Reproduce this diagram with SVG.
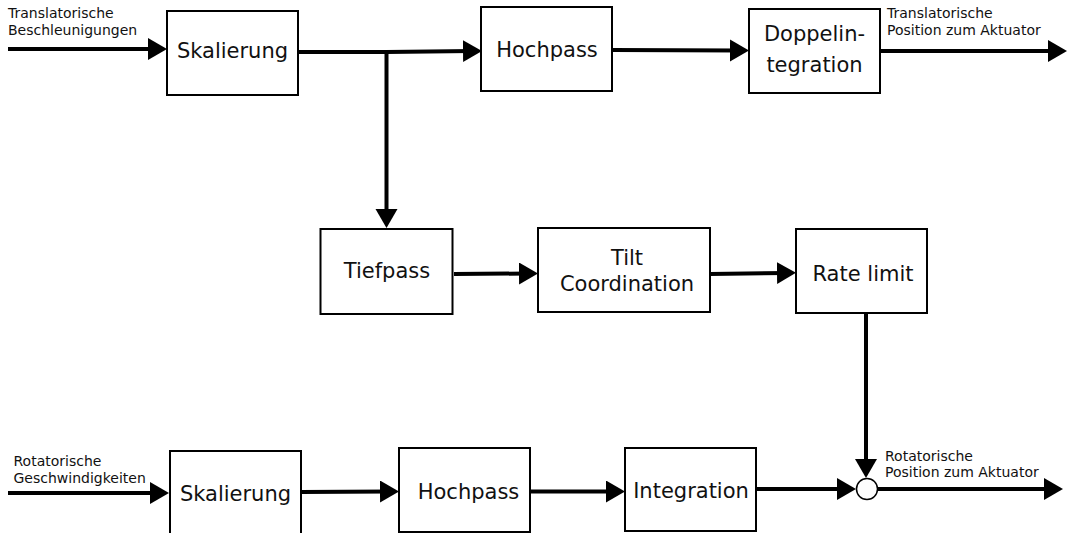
<svg xmlns="http://www.w3.org/2000/svg" width="1067" height="533" viewBox="0 0 1067 533">
  <style>
    .box { fill: #ffffff; stroke: #000000; stroke-width: 2; }
    .lbl { font-family: "DejaVu Sans", "Liberation Sans", sans-serif; font-size: 21px; fill: #111111; text-anchor: middle; }
    .sig { font-family: "DejaVu Sans", "Liberation Sans", sans-serif; font-size: 14px; fill: #111111; }
    .wire { fill: none; stroke: #000000; stroke-width: 4; marker-end: url(#head); }
    .plain { fill: none; stroke: #000000; stroke-width: 4; }
  </style>
  <defs>
    <marker id="head" markerUnits="userSpaceOnUse" markerWidth="20" markerHeight="24" refX="9" refY="11" orient="auto">
      <path d="M0,0 L19,11 L0,22 Z" fill="#000000"/>
    </marker>
  </defs>
  <rect width="1067" height="533" fill="#ffffff"/>

  <!-- signal labels -->
  <g id="labels">
    <text class="sig" x="8" y="18">Translatorische</text>
    <text class="sig" x="8" y="35">Beschleunigungen</text>
    <text class="sig" x="887" y="18">Translatorische</text>
    <text class="sig" x="887" y="35">Position zum Aktuator</text>
    <text class="sig" x="13.5" y="466">Rotatorische</text>
    <text class="sig" x="13.5" y="483">Geschwindigkeiten</text>
    <text class="sig" x="885" y="461">Rotatorische</text>
    <text class="sig" x="885" y="477">Position zum Aktuator</text>
  </g>

  <!-- connectors -->
  <g id="connectors">
    <line class="wire" x1="8" y1="49" x2="157" y2="49"/>
    <line class="plain" x1="298" y1="52" x2="388.5" y2="52"/>
    <line class="wire" x1="386.5" y1="52" x2="472" y2="51"/>
    <line class="wire" x1="386.5" y1="50" x2="386.5" y2="218"/>
    <line class="wire" x1="613" y1="50" x2="739" y2="50.5"/>
    <line class="wire" x1="880" y1="51" x2="1057" y2="51"/>
    <line class="wire" x1="454" y1="274" x2="528" y2="273.5"/>
    <line class="wire" x1="710" y1="274" x2="786" y2="273"/>
    <line class="wire" x1="866" y1="313" x2="866" y2="468"/>
    <line class="wire" x1="8" y1="493" x2="159" y2="493"/>
    <line class="wire" x1="301" y1="492" x2="389" y2="491.5"/>
    <line class="wire" x1="530" y1="491.5" x2="615" y2="491.5"/>
    <line class="wire" x1="756" y1="489" x2="846" y2="489"/>
    <line class="wire" x1="877" y1="489" x2="1053" y2="489"/>
  </g>

  <!-- top row: translational channel -->
  <g id="skalierung-trans">
    <rect class="box" x="167" y="11" width="131" height="84"/>
    <text class="lbl" x="232.5" y="58">Skalierung</text>
  </g>
  <g id="hochpass-trans">
    <rect class="box" x="481" y="7" width="131" height="84"/>
    <text class="lbl" x="547" y="57">Hochpass</text>
  </g>
  <g id="doppelintegration">
    <rect class="box" x="749" y="9" width="131" height="84"/>
    <text class="lbl" x="814.5" y="41">Doppelin-</text>
    <text class="lbl" x="814.5" y="72">tegration</text>
  </g>

  <!-- middle row: tilt coordination -->
  <g id="tiefpass">
    <rect class="box" x="320.5" y="229" width="132" height="85"/>
    <text class="lbl" x="387" y="278">Tiefpass</text>
  </g>
  <g id="tilt-coordination">
    <rect class="box" x="538" y="228" width="172" height="84"/>
    <text class="lbl" x="627" y="265">Tilt</text>
    <text class="lbl" x="627" y="291">Coordination</text>
  </g>
  <g id="rate-limit">
    <rect class="box" x="796" y="229" width="131" height="84"/>
    <text class="lbl" x="863" y="281">Rate limit</text>
  </g>

  <!-- bottom row: rotational channel -->
  <g id="skalierung-rot">
    <rect class="box" x="170" y="451" width="131" height="100"/>
    <text class="lbl" x="235.5" y="501">Skalierung</text>
  </g>
  <g id="hochpass-rot">
    <rect class="box" x="399" y="448" width="131" height="84"/>
    <text class="lbl" x="468.5" y="499">Hochpass</text>
  </g>
  <g id="integration">
    <rect class="box" x="625" y="448" width="131" height="83"/>
    <text class="lbl" x="691" y="498">Integration</text>
  </g>
  <g id="summing-point">
    <circle cx="867" cy="489" r="10.5" fill="#fdfdfd" stroke="#000000" stroke-width="1.5"/>
  </g>
</svg>
